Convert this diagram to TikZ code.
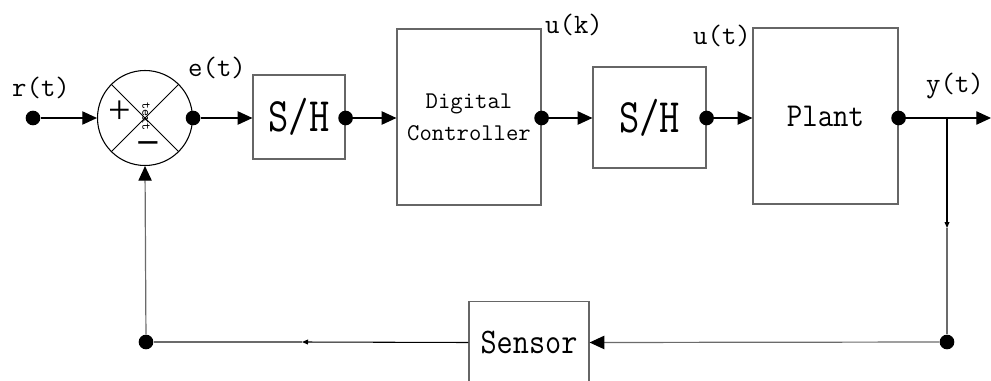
\documentclass[tikz,border=0pt]{standalone}
\usepackage{fontspec}
\usetikzlibrary{arrows.meta}
\newfontfamily\signfont{DejaVu Sans}
\newfontfamily\plusfont{Liberation Serif}
% condensed typewriter text for the block titles
\newcommand\cond[2]{\scalebox{#1}[1]{#2}}
\begin{document}
\begin{tikzpicture}[x=0.75pt,y=-0.75pt,
  every node/.style={font=\ttfamily},
  blockbox/.style={draw=black!60, line width=0.9pt, inner sep=0pt},
  sig/.style={draw=black, line width=0.8pt},
  feed/.style={draw=black!58, line width=0.9pt},
  bigarrow/.style={-{Triangle[length=11pt,width=10pt,color=black]}},
  smallarrow/.style={-{Triangle[length=4.5pt,width=3.6pt,color=black]}},
  dot/.style={circle, fill=black, minimum size=11pt, inner sep=0pt},
  sigl/.style={font=\ttfamily\fontsize{21}{22}\selectfont, inner sep=0pt}
]
\useasboundingbox (0,0) rectangle (991,381);

% summing junction
\node[circle, draw=black, line width=0.8pt, minimum size=71.25pt, inner sep=0pt] (sum) at (145,118) {};
\draw[line width=0.7pt] (sum.45) -- (sum.225);
\draw[line width=0.7pt] (sum.135) -- (sum.-45);
\node[inner sep=0pt, font=\ttfamily\fontsize{10}{10}\selectfont, rotate=-90] (sumtxt) at (146,117) {text};
\node[inner sep=0pt, font=\plusfont\fontsize{30}{30}\selectfont] (plus) at (120,112) {+};
\node[inner sep=0pt, font=\signfont\fontsize{23}{23}\selectfont] (minus) at (148,147) {−};

% blocks
\node[blockbox, minimum width=69pt, minimum height=63pt,
      font=\ttfamily\fontsize{36}{36}\selectfont] (sh1) at (299,117) {\cond{0.82}{S/H}};
\node[blockbox, minimum width=108pt, minimum height=132pt, align=center,
      font=\ttfamily\fontsize{18}{24}\selectfont] (ctrl) at (469,117) {Digital\\Controller};
\node[blockbox, minimum width=84.75pt, minimum height=75.75pt,
      font=\ttfamily\fontsize{36}{36}\selectfont] (sh2) at (649.5,117.5) {\cond{0.82}{S/H}};
\node[blockbox, minimum width=108.75pt, minimum height=132pt,
      font=\ttfamily\fontsize{25}{25}\selectfont] (plant) at (825.5,116) {\cond{0.9}{Plant}};
\node[blockbox, minimum width=90pt, minimum height=61pt,
      font=\ttfamily\fontsize{27}{27}\selectfont] (sensor) at (529,342.5) {\cond{0.87}{Sensor}};

% junction dots
\node[dot] (rin) at (33,118) {};
\node[dot] (eout) at (sum.east) {};
\node[dot] (sh1out) at (sh1.east |- 0,118) {};
\node[dot] (ctrlout) at (ctrl.east |- 0,118) {};
\node[dot] (sh2out) at (sh2.east |- 0,118) {};
\node[dot] (plantout) at (plant.east |- 0,118) {};
\node[dot] (tapdot) at (947,342) {};
\node[dot] (fbdot) at (146,342) {};

% helper points
\coordinate (tap) at (947,118);
\coordinate (yend) at (991,118);
\coordinate (tapmid) at (947,228);
\coordinate (fbmid) at (302,342);

% signal labels
\node[sigl] (lr) at (41,88) {r(t)};
\node[sigl] (le) at (217,68) {e(t)};
\node[sigl] (luk) at (574,25) {u(k)};
\node[sigl] (lut) at (722,36) {u(t)};
\node[sigl] (ly) at (955,86) {y(t)};

% forward path
\draw[sig, bigarrow] (rin) -- (sum.west);
\draw[sig, bigarrow] (eout) -- (sh1.west |- 0,118);
\draw[sig, bigarrow] (sh1out) -- (ctrl.west |- 0,118);
\draw[sig, bigarrow] (ctrlout) -- (sh2.west |- 0,118);
\draw[sig, bigarrow] (sh2out) -- (plant.west |- 0,118);
\draw[sig, bigarrow] (plantout) -- (yend);

% feedback path
\draw[sig, smallarrow] (tap) -- (tapmid);
\draw[feed] (tapmid) -- (tapdot);
\draw[feed, bigarrow] (tapdot) -- (sensor.east);
\draw[sig, smallarrow] (sensor.west) -- (fbmid);
\draw[feed] (fbmid) -- (fbdot);
\draw[feed, bigarrow] (fbdot) -- (sum.south);
\end{tikzpicture}
\end{document}
